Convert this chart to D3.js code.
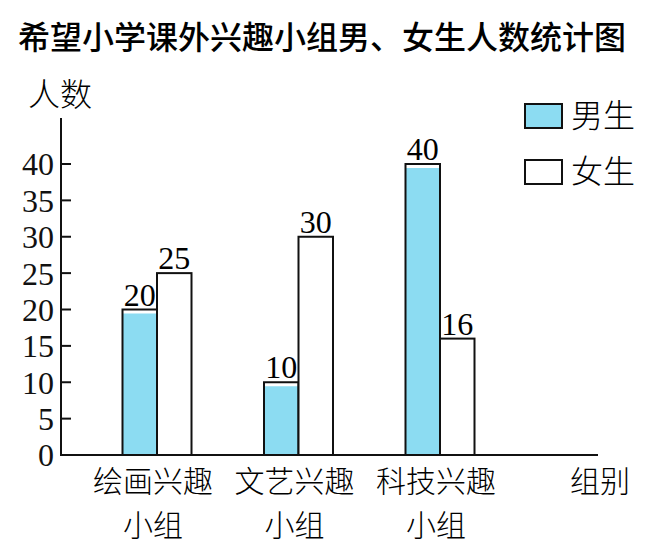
<!DOCTYPE html>
<html>
<head>
<meta charset="utf-8">
<script src="https://cdn.jsdelivr.net/npm/d3@7"></script>
<style>
  body { margin: 0; background: #fff; }
</style>
</head>
<body>
<div id="chart"></div>
<script>
// data
var groups = ['绘画兴趣小组', '文艺兴趣小组', '科技兴趣小组'];
var groupLine1 = ['绘画兴趣', '文艺兴趣', '科技兴趣'];
var groupLine2 = ['小组', '小组', '小组'];
var boys = [20, 10, 40];
var girls = [25, 30, 16];
var seriesNames = ['男生', '女生'];
var yTicks = [0, 5, 10, 15, 20, 25, 30, 35, 40];

var W = 670, H = 551;
var cjk = '"Noto Sans CJK SC", sans-serif';
var num = '"Liberation Serif", "DejaVu Serif", serif';
var blue = '#8cdcf2';

var svg = d3.select("#chart").append("svg")
    .attr("width", W)
    .attr("height", H);

// scales
var x = d3.scalePoint()
    .domain(groups)
    .range([157, 440]);   // group centre = border between the 2 bars
var barW = 34.5;

var y = d3.scaleLinear()
    .domain([0, 40])
    .range([455, 164]);

// title
svg.append("text")
    .attr("x", 18)
    .attr("y", 49)
    .style("font-family", cjk)
    .style("font-size", "32px")
    .style("font-weight", 500)
    .text("希望小学课外兴趣小组男、女生人数统计图");

// y axis
var yAxis = d3.axisLeft(y)
    .tickValues(yTicks)
    .tickSize(0)
    .tickPadding(7);

var gy = svg.append("g")
    .attr("transform", "translate(61,0)")
    .call(yAxis);
gy.select(".domain").remove();
gy.selectAll("text")
    .style("font-family", num)
    .style("font-size", "32px")
    .attr("dy", "0.34em")
    .attr("fill", "#111");

// tick marks go to the right of the axis
svg.selectAll("line.ytick")
    .data(yTicks.filter(function(d) { return d > 0; }))
    .enter().append("line")
    .attr("class", "ytick")
    .attr("x1", 61).attr("x2", 71)
    .attr("y1", function(d) { return y(d); })
    .attr("y2", function(d) { return y(d); })
    .style("stroke", "#111")
    .style("stroke-width", 2);

// bars - boys (blue, fill a bit below the outline top like the print)
svg.selectAll(".boyfill")
    .data(boys)
    .enter().append("rect")
    .attr("class", "boyfill")
    .attr("x", function(d, i) { return x(groups[i]) - barW; })
    .attr("y", function(d) { return y(d) + 4; })
    .attr("width", barW)
    .attr("height", function(d) { return y(0) - y(d) - 4; })
    .style("fill", blue);

svg.selectAll(".boy")
    .data(boys)
    .enter().append("rect")
    .attr("class", "boy")
    .attr("x", function(d, i) { return x(groups[i]) - barW; })
    .attr("y", function(d) { return y(d); })
    .attr("width", barW)
    .attr("height", function(d) { return y(0) - y(d); })
    .style("fill", "none")
    .style("stroke", "#111")
    .style("stroke-width", 2);

svg.selectAll(".girl")
    .data(girls)
    .enter().append("rect")
    .attr("class", "girl")
    .attr("x", function(d, i) { return x(groups[i]); })
    .attr("y", function(d) { return y(d); })
    .attr("width", barW)
    .attr("height", function(d) { return y(0) - y(d); })
    .style("fill", "#fff")
    .style("stroke", "#111")
    .style("stroke-width", 2);

// value labels
svg.selectAll(".boylabel")
    .data(boys)
    .enter().append("text")
    .attr("x", function(d, i) { return x(groups[i]) - barW / 2; })
    .attr("y", function(d) { return y(d) - 4; })
    .attr("text-anchor", "middle")
    .style("font-family", num)
    .style("font-size", "32px")
    .text(function(d) { return d; });

svg.selectAll(".girllabel")
    .data(girls)
    .enter().append("text")
    .attr("x", function(d, i) { return x(groups[i]) + barW / 2; })
    .attr("y", function(d) { return y(d) - 4; })
    .attr("text-anchor", "middle")
    .style("font-family", num)
    .style("font-size", "32px")
    .text(function(d) { return d; });

// axes lines
svg.append("line")
    .attr("x1", 61).attr("x2", 61)
    .attr("y1", 118).attr("y2", y(0) + 1)
    .style("stroke", "#111").style("stroke-width", 2);
svg.append("line")
    .attr("x1", 60).attr("x2", 598)
    .attr("y1", y(0)).attr("y2", y(0))
    .style("stroke", "#111").style("stroke-width", 2);

// x labels, two lines each
svg.selectAll(".xlabel1")
    .data(groupLine1)
    .enter().append("text")
    .attr("class", "xlabel1")
    .attr("x", function(d, i) { return x(groups[i]) - 4; })
    .attr("y", 492)
    .attr("text-anchor", "middle")
    .style("font-family", cjk)
    .style("font-size", "30px")
    .style("font-weight", 300)
    .text(function(d) { return d; });

svg.selectAll(".xlabel2")
    .data(groupLine2)
    .enter().append("text")
    .attr("class", "xlabel2")
    .attr("x", function(d, i) { return x(groups[i]) - 4; })
    .attr("y", 536)
    .attr("text-anchor", "middle")
    .style("font-family", cjk)
    .style("font-size", "30px")
    .style("font-weight", 300)
    .text(function(d) { return d; });

// axis titles
svg.append("text")
    .attr("x", 28).attr("y", 106)
    .style("font-family", cjk)
    .style("font-size", "32px")
    .style("font-weight", 300)
    .text("人数");
svg.append("text")
    .attr("x", 570).attr("y", 492)
    .style("font-family", cjk)
    .style("font-size", "30px")
    .style("font-weight", 300)
    .text("组别");

// legend
var legend = svg.selectAll(".legend")
    .data(seriesNames)
    .enter().append("g")
    .attr("class", "legend")
    .attr("transform", function(d, i) { return "translate(525," + (104 + i * 56) + ")"; });
legend.append("rect")
    .attr("width", 37)
    .attr("height", 24)
    .style("fill", function(d, i) { return i === 0 ? blue : "#fff"; })
    .style("stroke", "#111")
    .style("stroke-width", 2);
legend.append("text")
    .attr("x", 46)
    .attr("y", 23)
    .style("font-family", cjk)
    .style("font-size", "32px")
    .style("font-weight", 300)
    .text(function(d) { return d; });
</script>
</body>
</html>
